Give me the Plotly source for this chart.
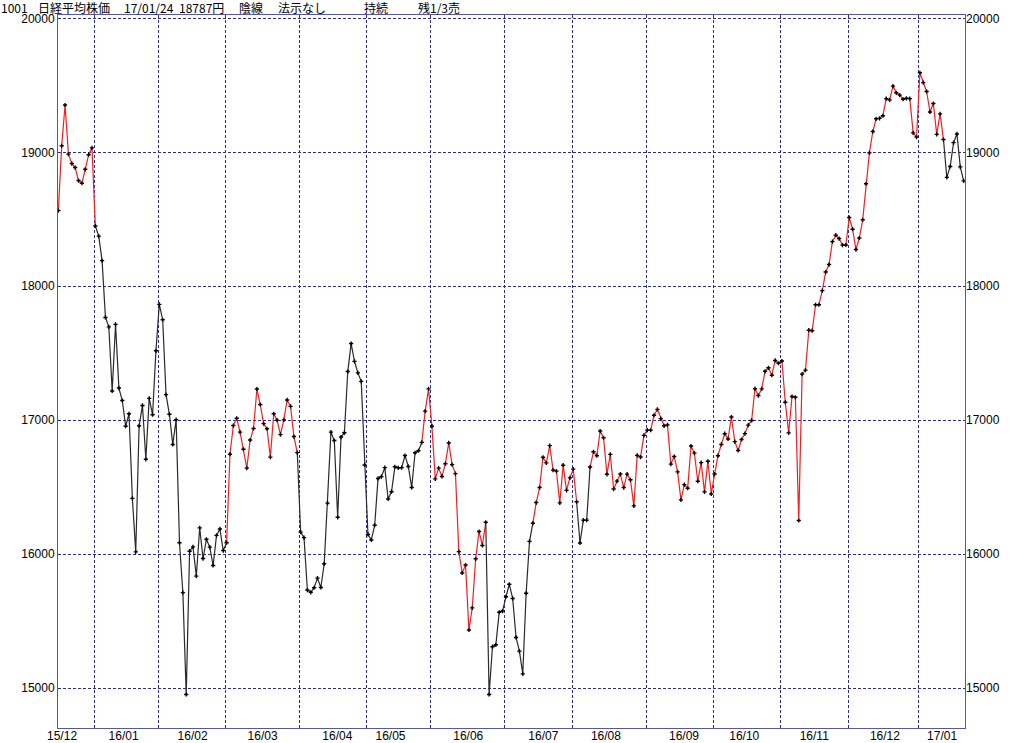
import plotly.graph_objects as go

# ---------------- data ----------------
months = ["2015-12", "2016-01", "2016-02", "2016-03", "2016-04", "2016-05", "2016-06",
          "2016-07", "2016-08", "2016-09", "2016-10", "2016-11", "2016-12", "2017-01"]

month_days = [
    [15, 16, 17, 18, 21, 22, 24, 25, 28, 29, 30],
    [4, 5, 6, 7, 8, 12, 13, 14, 15, 18, 19, 20, 21, 22, 25, 26, 27, 28, 29],
    [1, 2, 3, 4, 5, 8, 9, 10, 12, 15, 16, 17, 18, 19, 22, 23, 24, 25, 26, 29],
    [1, 2, 3, 4, 7, 8, 9, 10, 11, 14, 15, 16, 17, 18, 22, 23, 24, 25, 28, 29, 30, 31],
    [1, 4, 5, 6, 7, 8, 11, 12, 13, 14, 15, 18, 19, 20, 21, 22, 25, 26, 27, 28],
    [2, 6, 9, 10, 11, 12, 13, 16, 17, 18, 19, 20, 23, 24, 25, 26, 27, 30, 31],
    [1, 2, 3, 6, 7, 8, 9, 10, 13, 14, 15, 16, 17, 20, 21, 22, 23, 24, 27, 28, 29, 30],
    [1, 4, 5, 6, 7, 8, 11, 12, 13, 14, 15, 19, 20, 21, 22, 25, 26, 27, 28, 29],
    [1, 2, 3, 4, 5, 8, 9, 10, 12, 15, 16, 17, 18, 19, 22, 23, 24, 25, 26, 29, 30, 31],
    [1, 2, 5, 6, 7, 8, 9, 12, 13, 14, 15, 16, 20, 21, 23, 26, 27, 28, 29, 30],
    [3, 4, 5, 6, 7, 11, 12, 13, 14, 17, 18, 19, 20, 21, 24, 25, 26, 27, 28, 31],
    [1, 2, 4, 7, 8, 9, 10, 11, 14, 15, 16, 17, 18, 21, 22, 24, 25, 28, 29, 30],
    [1, 2, 5, 6, 7, 8, 9, 12, 13, 14, 15, 16, 19, 20, 21, 22, 26, 27, 28, 29, 30],
    [4, 5, 6, 10, 11, 12, 13, 16, 17, 18, 19, 20, 23, 24],
]

month_closes = [
    [18565, 19049, 19353, 18986, 18916, 18886, 18789, 18769, 18873, 18982, 19033],
    [18450, 18374, 18191, 17767, 17697, 17218, 17715, 17240, 17147, 16955, 17048, 16416,
     16017, 16958, 17110, 16708, 17163, 17041, 17518],
    [17865, 17750, 17191, 17044, 16819, 17004, 16085, 15713, 14952, 16022, 16054, 15836,
     16196, 15967, 16111, 16052, 15915, 16140, 16188, 16026],
    [16085, 16746, 16960, 17014, 16911, 16783, 16642, 16852, 16938, 17233, 17117, 16974,
     16936, 16724, 17048, 17000, 16892, 17002, 17151, 17103, 16878, 16758],
    [16164, 16123, 15732, 15715, 15749, 15821, 15751, 15928, 16381, 16911, 16848, 16275,
     16874, 16906, 17363, 17572, 17439, 17353, 17290, 16666],
    [16147, 16106, 16216, 16565, 16579, 16646, 16412, 16466, 16652, 16644, 16646, 16736,
     16654, 16498, 16757, 16772, 16834, 17068, 17234],
    [16955, 16562, 16642, 16580, 16675, 16830, 16668, 16601, 16019, 15859, 15919, 15434,
     15599, 15965, 16169, 16065, 16238, 14952, 15309, 15323, 15566, 15575],
    [15682, 15775, 15669, 15378, 15276, 15106, 15708, 16095, 16231, 16385, 16497, 16723,
     16681, 16810, 16627, 16620, 16383, 16664, 16476, 16569],
    [16635, 16391, 16083, 16254, 16254, 16650, 16764, 16735, 16919, 16869, 16596, 16745,
     16486, 16545, 16598, 16497, 16597, 16555, 16360, 16737, 16725, 16887],
    [16926, 16925, 17037, 17081, 17012, 16958, 16965, 16672, 16729, 16614, 16405, 16519,
     16492, 16807, 16754, 16544, 16683, 16465, 16693, 16449],
    [16598, 16735, 16819, 16899, 16860, 17024, 16840, 16774, 16856, 16900, 16963, 16998,
     17235, 17184, 17234, 17365, 17391, 17336, 17446, 17425],
    [17442, 17134, 16905, 17177, 17171, 16251, 17344, 17374, 17672, 17668, 17862, 17862,
     17967, 18106, 18162, 18333, 18381, 18356, 18307, 18308],
    [18513, 18426, 18274, 18360, 18496, 18765, 18996, 19155, 19250, 19253, 19273, 19401,
     19391, 19494, 19444, 19427, 19396, 19403, 19401, 19145, 19114],
    [19594, 19520, 19454, 19301, 19364, 19134, 19287, 19095, 18813, 18894, 19072, 19137,
     18891, 18787],
]

# trend signal: state valid from the given date on (segment ending at that date coloured by it)
signal_start = ["2015-12-15", "2016-01-05", "2016-03-02", "2016-04-01", "2016-05-30",
                "2016-06-24", "2016-07-14", "2016-08-03", "2016-08-09", "2017-01-17"]
signal_state = ["up", "down", "up", "down", "up", "down", "up", "down", "up", "down"]

x_tick_labels = ["15/12", "16/01", "16/02", "16/03", "16/04", "16/05", "16/06",
                 "16/07", "16/08", "16/09", "16/10", "16/11", "16/12", "17/01"]
y_tick_values = [15000, 16000, 17000, 18000, 19000, 20000]

header_parts = ["1001", "日経平均株価", "17/01/24", "18787円", "陰線", "法示なし", "持続", "残1/3売"]

# ---------------- layout config ----------------
label_at = [1.1, 19.4, 39.9, 60.7, 82.9, 98.7, 121.8, 144.1, 162.7, 185.9, 203.8, 224.6, 245.6, 262.6]
header_px = [0, 37, 123, 178, 238, 277, 363, 417]

L, R, T, B = 58, 59, 15, 15
W, H = 1024, 743
PW, PH = W - L - R, H - T - B
YR = [14702, 20025]

# ---------------- build series ----------------
dates, closes = [], []
for m, days, vals in zip(months, month_days, month_closes):
    for d, v in zip(days, vals):
        dates.append(f"{m}-{d:02d}")
        closes.append(v)
idx = list(range(len(dates)))
XR = [-0.1, len(dates) - 1 + 0.4]

month_first = []
for i, d in enumerate(dates):
    if i > 0 and d[:7] != dates[i - 1][:7]:
        month_first.append(i - 0.3)

state = []
k = 0
for d in dates:
    while k + 1 < len(signal_start) and d >= signal_start[k + 1]:
        k += 1
    state.append(signal_state[k])

colors = {"up": "#ff1a1a", "down": "#2a2a2a"}

fig = go.Figure()
# split into runs; segment (i-1 -> i) coloured by state[i]
runs = []
i = 1
while i < len(dates):
    s = state[i]
    j = i
    while j + 1 < len(dates) and state[j + 1] == s:
        j += 1
    runs.append((i - 1, j, s))
    i = j + 1

for a, b, s in runs:
    fig.add_trace(go.Scatter(
        x=idx[a:b + 1], y=closes[a:b + 1], mode="lines",
        line=dict(color=colors[s], width=1.2), hoverinfo="skip", showlegend=False))

fig.add_trace(go.Scatter(
    x=idx, y=closes, mode="markers",
    marker=dict(symbol="cross", size=3.5, color="#000000", line=dict(width=0)),
    text=dates, hovertemplate="%{text}: %{y}<extra></extra>", showlegend=False))

# invisible trace to carry the secondary axes (right labels, month grid)
fig.add_trace(go.Scatter(x=[idx[0]], y=[closes[0]], xaxis="x2", yaxis="y2", mode="markers",
                         marker=dict(opacity=0), hoverinfo="skip", showlegend=False))

font = dict(family="Noto Sans CJK JP, Noto Sans, sans-serif", size=12, color="#000000")
tick_font = dict(family="Liberation Sans, Arial, sans-serif", size=12, color="#000000")
grid_color = "#2a2aa0"
frame_color = "#5555b0"

fig.update_layout(
    width=W, height=H, autosize=False,
    margin=dict(l=L, r=R, t=T, b=B, pad=0, autoexpand=False),
    paper_bgcolor="white", plot_bgcolor="white",
    font=font,
    xaxis=dict(range=XR, tickmode="array", tickvals=label_at, ticktext=x_tick_labels,
               showgrid=False, zeroline=False, showline=True, linecolor=frame_color,
               linewidth=1, mirror=True, ticks="", tickfont=tick_font, automargin=False,
               ticklabelstandoff=-3),
    xaxis2=dict(range=XR, overlaying="x", side="bottom", tickmode="array",
                tickvals=month_first, showticklabels=False, ticks="",
                showgrid=True, gridcolor=grid_color, gridwidth=1, griddash="3px,2px",
                zeroline=False, showline=False, automargin=False),
    yaxis=dict(range=YR, tickmode="array", tickvals=y_tick_values,
               ticktext=[str(v) for v in y_tick_values],
               showgrid=True, gridcolor=grid_color, gridwidth=1, griddash="3px,2px",
               zeroline=False, showline=True, linecolor=frame_color, linewidth=1,
               mirror=True, ticks="", tickfont=tick_font, automargin=False),
    yaxis2=dict(range=YR, overlaying="y", side="right", tickmode="array",
                tickvals=y_tick_values, ticktext=[str(v) for v in y_tick_values],
                showgrid=False, zeroline=False, showline=False, ticks="", tickfont=tick_font,
                automargin=False),
)

for txt, px in zip(header_parts, header_px):
    fig.add_annotation(text=txt, xref="paper", yref="paper",
                       x=(px - L) / PW, y=1 + (T + 2) / PH, xanchor="left", yanchor="top",
                       showarrow=False, font=font, borderpad=0)

fig.write_html("out.html", config={"displayModeBar": False},
               post_script="document.body.style.margin='0';document.body.style.padding='0';")
